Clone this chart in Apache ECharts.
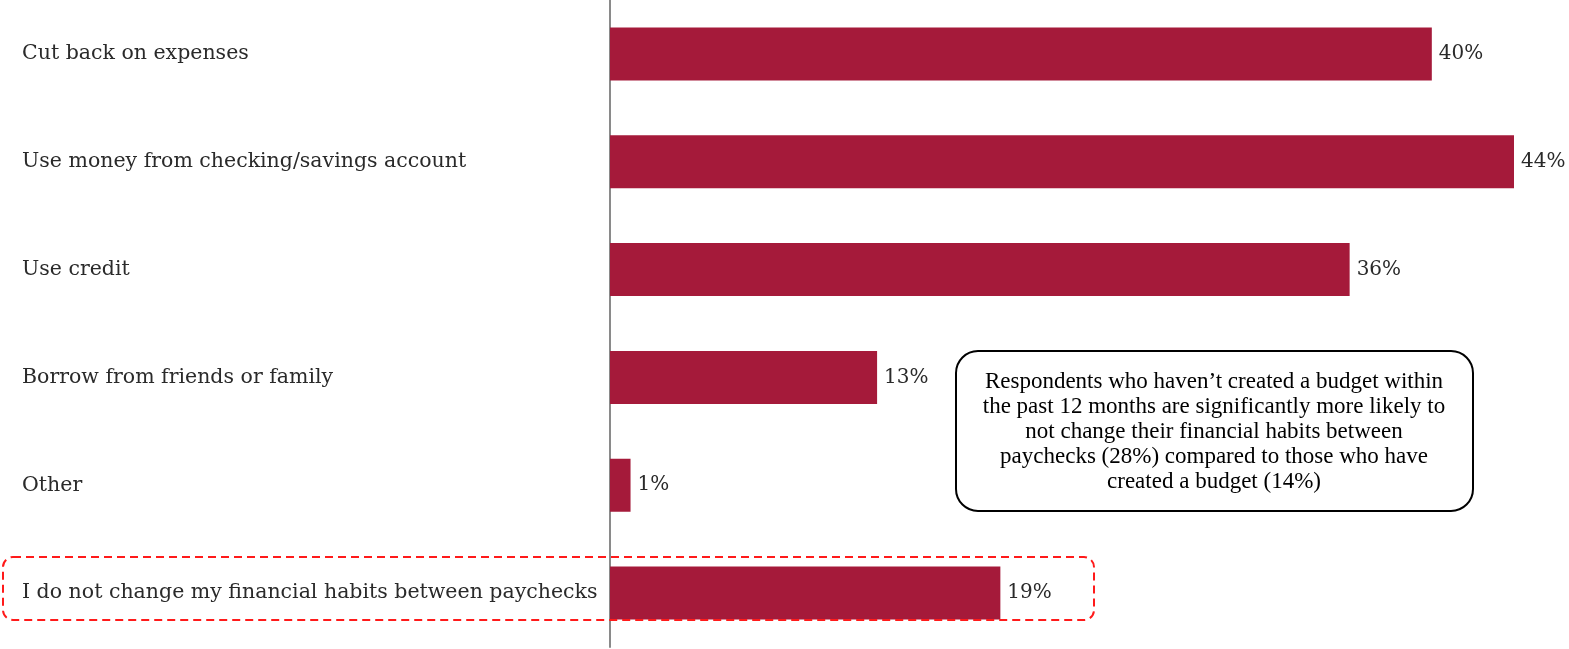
<!DOCTYPE html>
<html>
<head>
<meta charset="utf-8">
<style>
  html, body { margin: 0; padding: 0; background: #fff; }
  #chart { width: 1569px; height: 649px; }
</style>
<script src="https://cdn.jsdelivr.net/npm/echarts@6/dist/echarts.min.js"></script>
</head>
<body>
<div id="chart"></div>
<script>
// Ways people cope between paychecks (share of respondents, %)
const categories = [
  'Cut back on expenses',
  'Use money from checking/savings account',
  'Use credit',
  'Borrow from friends or family',
  'Other',
  'I do not change my financial habits between paychecks'
];
const shares = [40, 44, 36, 13, 1, 19];

const noteLines = [
  'Respondents who haven\u2019t created a budget within',
  'the past 12 months are significantly more likely to',
  'not change their financial habits between',
  'paychecks (28%) compared to those who have',
  'created a budget (14%)'
];

const serif = '"DejaVu Serif", "Liberation Serif", serif';
const chart = echarts.init(document.getElementById('chart'));

chart.setOption({
  animation: false,
  grid: { left: 610, right: 55, top: 0, bottom: 2, containLabel: false },
  xAxis: {
    type: 'value', min: 0, max: 44, show: false
  },
  yAxis: {
    type: 'category',
    inverse: true,
    data: categories,
    axisLine: { show: true, lineStyle: { color: '#8a8a8a', width: 2 } },
    axisTick: { show: false },
    axisLabel: {
      align: 'left',
      margin: 588,
      fontFamily: serif,
      fontSize: 20.5,
      color: '#2a2a2a'
    }
  },
  series: [{
    type: 'bar',
    data: shares,
    barWidth: 53,
    itemStyle: { color: '#A51A3A' },
    label: {
      show: true,
      position: 'right',
      distance: 7,
      formatter: '{c}%',
      fontFamily: serif,
      fontSize: 20,
      color: '#2a2a2a'
    }
  }],
  graphic: [
    {
      type: 'rect',
      shape: { x: 956, y: 351, width: 517, height: 160, r: 22 },
      style: { fill: '#fff', stroke: '#000', lineWidth: 2 },
      z: 10
    },
    {
      type: 'text',
      x: 1214, y: 432,
      style: {
        text: noteLines.join('\n'),
        fontFamily: '"Liberation Serif", serif',
        fontSize: 23,
        lineHeight: 24.8,
        align: 'center',
        verticalAlign: 'middle',
        fill: '#000'
      },
      z: 11
    },
    {
      type: 'rect',
      shape: { x: 3, y: 557, width: 1091, height: 63, r: 10 },
      style: { fill: 'none', stroke: '#ff1a1a', lineWidth: 2, lineDash: [8, 5] },
      z: 10
    }
  ]
});
</script>
</body>
</html>
